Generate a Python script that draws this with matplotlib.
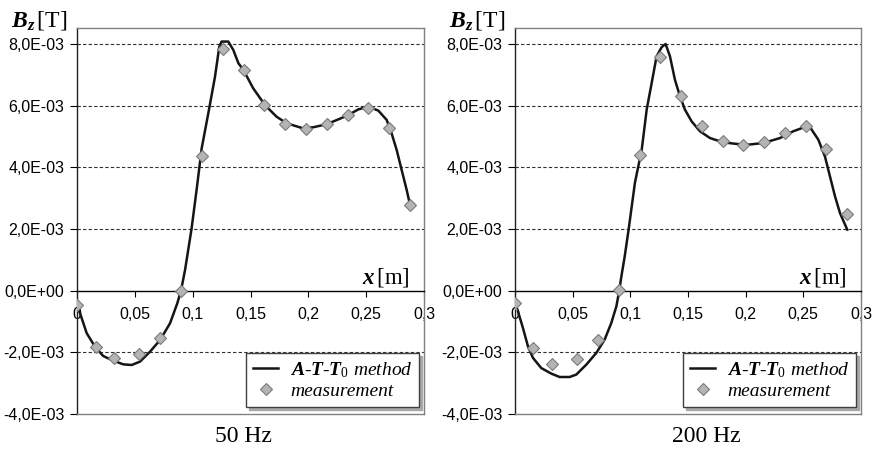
import matplotlib
matplotlib.use("Agg")
import matplotlib.pyplot as plt
import numpy as np

plt.rcParams['font.family'] = ['Liberation Sans', 'DejaVu Sans']
plt.rcParams['mathtext.fontset'] = 'custom'
plt.rcParams['mathtext.rm'] = 'Liberation Serif'
plt.rcParams['mathtext.it'] = 'Liberation Serif:italic'
plt.rcParams['mathtext.bf'] = 'Liberation Serif:bold:italic'

# measurement points (same positions for both frequencies), Bz in mT
x_meas = [0.0, 0.016, 0.032, 0.054, 0.072, 0.09, 0.108, 0.126, 0.144,
          0.162, 0.18, 0.198, 0.216, 0.234, 0.252, 0.27, 0.288]
b50_meas = [-0.46, -1.82, -2.19, -2.05, -1.54, 0.0, 4.37, 7.83, 7.16,
            6.03, 5.40, 5.25, 5.40, 5.70, 5.94, 5.29, 2.78]
b200_meas = [-0.40, -1.86, -2.38, -2.20, -1.61, 0.03, 4.41, 7.57, 6.33,
             5.33, 4.87, 4.72, 4.81, 5.10, 5.35, 4.59, 2.50]

# A-T-T0 method curves
x50_calc = [0.0, 0.0026, 0.0084, 0.0156, 0.0227, 0.0314, 0.040, 0.0473,
            0.0545, 0.0631, 0.0718, 0.0804, 0.0867, 0.0899, 0.0934, 0.099,
            0.1035, 0.1078, 0.1135, 0.1193, 0.123, 0.125, 0.1308, 0.1351,
            0.1395, 0.1438, 0.1524, 0.1625, 0.1726, 0.1813, 0.195, 0.2043,
            0.2159, 0.2332, 0.2432, 0.2519, 0.2605, 0.2677, 0.272, 0.2764,
            0.2807, 0.285, 0.2879]
b50_calc = [-0.50, -0.73, -1.38, -1.82, -2.12, -2.27, -2.39, -2.41,
            -2.30, -1.98, -1.60, -1.06, -0.41, 0.0, 0.67, 2.0,
            3.3, 4.62, 5.75, 6.94, 7.91, 8.08, 8.08, 7.81,
            7.38, 7.16, 6.56, 6.02, 5.64, 5.43, 5.27, 5.30,
            5.40, 5.67, 5.88, 5.97, 5.84, 5.54, 5.10, 4.56,
            3.91, 3.27, 2.78]

x200_calc = [0.0026, 0.0069, 0.0113, 0.0156, 0.0228, 0.0315, 0.0387, 0.0474,
             0.0532, 0.0618, 0.0705, 0.0777, 0.0835, 0.0879, 0.0902, 0.0922,
             0.0951, 0.0986, 0.104, 0.1099, 0.1142, 0.1185, 0.1228, 0.1272,
             0.1306, 0.1344, 0.1387, 0.1431, 0.1474, 0.1532, 0.1604, 0.1691,
             0.1806, 0.1922, 0.2009, 0.2153, 0.2298, 0.2413, 0.2529, 0.2564,
             0.263, 0.2688, 0.2731, 0.2775, 0.2818, 0.2881]
b200_calc = [-0.67, -1.21, -1.81, -2.18, -2.51, -2.69, -2.80, -2.80,
             -2.72, -2.40, -2.02, -1.59, -1.05, -0.51, -0.05, 0.45,
             1.1, 2.0, 3.5, 4.57, 5.87, 6.73, 7.6, 7.90,
             8.0, 7.6, 6.84, 6.3, 5.87, 5.49, 5.17, 4.95,
             4.81, 4.76, 4.73, 4.79, 4.95, 5.17, 5.33, 5.27,
             4.9, 4.35, 3.71, 3.06, 2.52, 1.98]

x_ticks = [0, 0.05, 0.1, 0.15, 0.2, 0.25, 0.3]
y_ticks = [-4e-3, -2e-3, 0, 2e-3, 4e-3, 6e-3, 8e-3]
grid_levels = [-2e-3, 2e-3, 4e-3, 6e-3, 8e-3]


def draw_panel(ax, xc, bc, bm, title, title_x):
    ax.set_xlim(0, 0.3)
    ax.set_ylim(-4e-3, 8.52e-3)

    for g in grid_levels:
        ax.axhline(g, color='#303030', lw=0.8, ls=(0, (3, 2)), zorder=1)

    ax.plot(xc, np.array(bc) * 1e-3, color='#151515', lw=1.8, zorder=3,
            label=r'$\mathbf{A}$-$\mathbf{T}$-$\mathbf{T}_{\mathrm{0}}$ method')
    ax.plot(x_meas, np.array(bm) * 1e-3, ls='none', marker='D', ms=6,
            mfc='#b4b4b4', mec='#7a7a7a', mew=0.8, zorder=4, label='measurement')

    ax.spines['bottom'].set_position(('data', 0))
    ax.spines['bottom'].set_color('black')
    ax.spines['bottom'].set_linewidth(1.0)
    ax.spines['left'].set_color('#202020')
    ax.spines['left'].set_linewidth(1.0)
    for s in ['top', 'right']:
        ax.spines[s].set_color('#808080')
        ax.spines[s].set_linewidth(1.0)
    ax.plot([0, 1], [0, 0], transform=ax.transAxes, color='#808080',
            lw=1.0, clip_on=False, zorder=5)

    ax.set_xticks(x_ticks)
    ax.set_xticklabels([f"{v:g}".replace('.', ',') for v in x_ticks])
    ax.set_yticks(y_ticks)
    ax.set_yticklabels([f"{v:.1E}".replace('.', ',') for v in y_ticks])
    ax.tick_params(axis='x', direction='out', length=4, width=0.8,
                   pad=8, labelsize=11.5)
    ax.tick_params(axis='y', direction='out', length=5, width=0.8,
                   pad=4, labelsize=11.5)

    ax.text(-0.028, 1.003, r'$\mathbf{B}_{\mathbf{z}}\,\mathrm{[T]}$',
            transform=ax.transAxes, ha='right', va='baseline', fontsize=17)
    ax.text(0.96, 0.337, r'$\mathbf{x}\,\mathrm{[m]}$',
            transform=ax.transAxes, ha='right', va='baseline', fontsize=16.5)
    ax.text(title_x, -0.057, title, transform=ax.transAxes, ha='center',
            va='center', fontsize=17, family='Liberation Serif')

    leg = ax.legend(loc='lower right', bbox_to_anchor=(0.998, 0.008),
                    prop={'family': 'Liberation Serif', 'style': 'italic',
                          'size': 14},
                    fancybox=False, framealpha=1, edgecolor='#404040',
                    shadow={'color': '#a8a8a8', 'alpha': 1},
                    handlelength=1.3, handletextpad=0.6, borderpad=0.35,
                    labelspacing=0.15, borderaxespad=0.2)
    leg.get_frame().set_linewidth(1.0)


fig = plt.figure(figsize=(8.73, 4.5), dpi=100)
ax1 = fig.add_axes([0.0882, 0.08, 0.3975, 0.8578])
ax2 = fig.add_axes([0.5899, 0.08, 0.3963, 0.8578])

draw_panel(ax1, x50_calc, b50_calc, b50_meas, '50 Hz', 0.481)
draw_panel(ax2, x200_calc, b200_calc, b200_meas, '200 Hz', 0.554)

plt.savefig("out.png", dpi=100)
